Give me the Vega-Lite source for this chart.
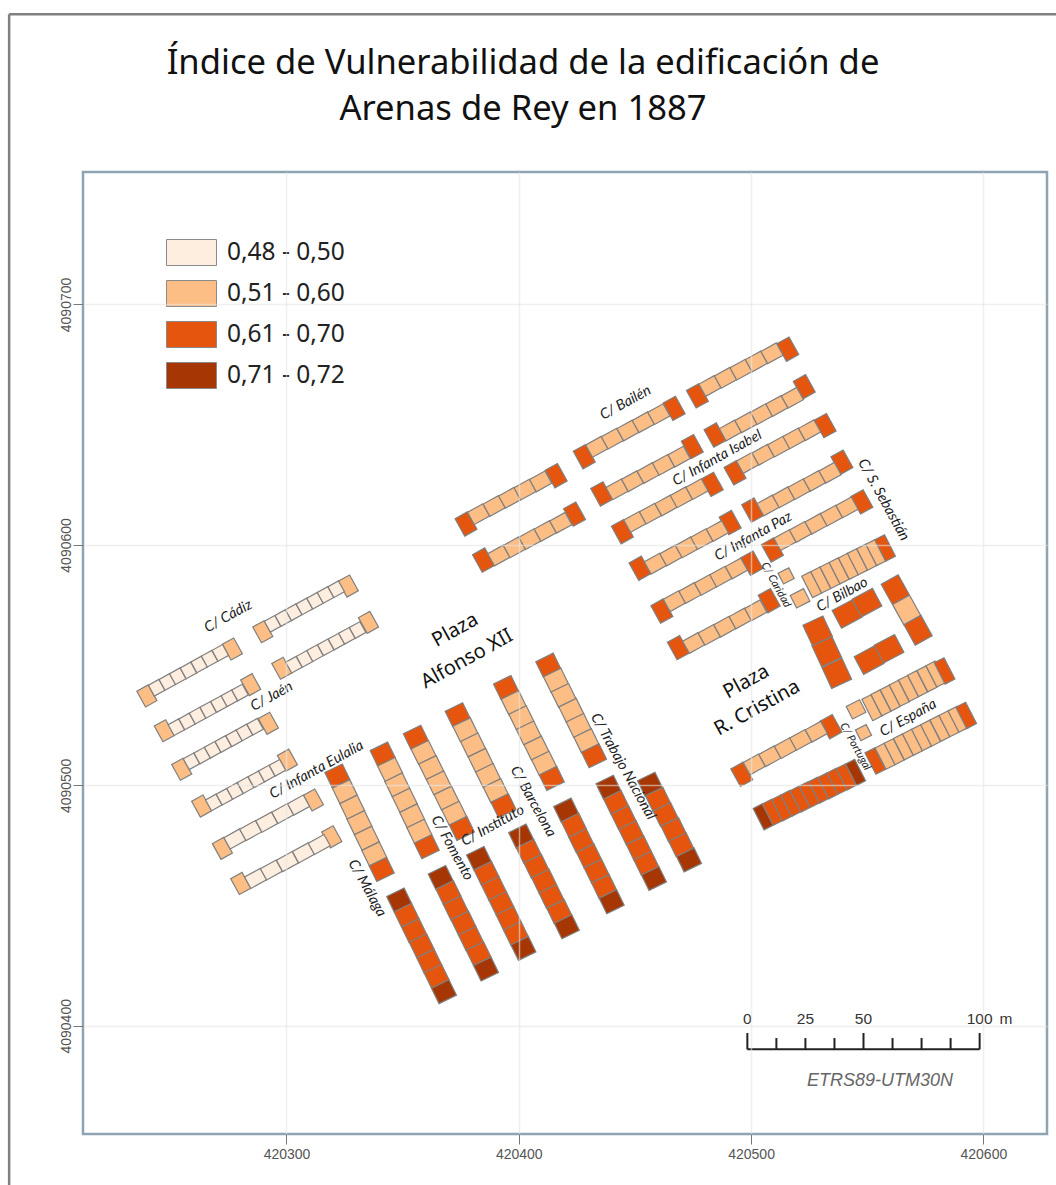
{"$schema":"https://vega.github.io/schema/vega-lite/v6.json","autosize":{"type":"none"},"padding":{"left":83,"top":172,"right":9,"bottom":51},"width":964,"height":962,"background":"white",
"config":{"view":{"stroke":"#8ea4b2","strokeWidth":2.5}},
"title":{"text":["Índice de Vulnerabilidad de la edificación de","Arenas de Rey en 1887"],"anchor":"middle","frame":"group","dx":-42,"offset":-115,"font":"Noto Sans","fontSize":34.6,"fontWeight":"normal","color":"#111111","lineHeight":46},
"datasets":{
"border":[{"e":420180.6,"n":4090820.7,"e2":420180.6,"n2":4090333.7},{"e":420180.6,"n":4090820.7,"e2":420631.3,"n2":4090820.7}],
"bar":[{"e":420498.4,"n":4090390.2,"e2":420598.4,"n2":4090390.2},{"e":420498.4,"n":4090397,"e2":420498.4,"n2":4090390.2},{"e":420510.9,"n":4090394.9,"e2":420510.9,"n2":4090390.2},{"e":420523.4,"n":4090394.9,"e2":420523.4,"n2":4090390.2},{"e":420535.9,"n":4090394.9,"e2":420535.9,"n2":4090390.2},{"e":420548.4,"n":4090397,"e2":420548.4,"n2":4090390.2},{"e":420560.9,"n":4090394.9,"e2":420560.9,"n2":4090390.2},{"e":420573.4,"n":4090394.9,"e2":420573.4,"n2":4090390.2},{"e":420585.9,"n":4090394.9,"e2":420585.9,"n2":4090390.2},{"e":420598.4,"n":4090397,"e2":420598.4,"n2":4090390.2}],
"barlabels":[{"e":420498.4,"n":4090402.8,"t":"0"},{"e":420523.4,"n":4090402.8,"t":"25"},{"e":420548.4,"n":4090402.8,"t":"50"},{"e":420598.4,"n":4090402.8,"t":"100"},{"e":420609.7,"n":4090402.8,"t":"m"}],
"along":[{"e":420275,"n":4090570.2,"t":"C/ Cádiz"},{"e":420293.7,"n":4090536.9,"t":"C/ Jaén"},{"e":420313,"n":4090506.4,"t":"C/ Infanta Eulalia"},{"e":420388.9,"n":4090483.1,"t":"C/ Instituto"},{"e":420446,"n":4090659,"t":"C/ Bailén"},{"e":420485.5,"n":4090636,"t":"C/ Infanta Isabel"},{"e":420501,"n":4090603.4,"t":"C/ Infanta Paz"},{"e":420539.3,"n":4090579.2,"t":"C/ Bilbao"},{"e":420567.7,"n":4090527.9,"t":"C/ España"}],
"across":[{"e":420334.6,"n":4090457.2,"t":"C/ Málaga"},{"e":420371.2,"n":4090473.9,"t":"C/ Fomento"},{"e":420406,"n":4090493.2,"t":"C/ Barcelona"},{"e":420444.8,"n":4090507.8,"t":"C/ Trabajo Nacional"},{"e":420556.9,"n":4090618.7,"t":"C/ S. Sebastián"}],
"acrosssmall":[{"e":420510.6,"n":4090583.3,"t":"C/ Caridad"},{"e":420544.8,"n":4090516.1,"t":"C/ Portugal"}],
"plazas":[{"e":420372.6,"n":4090564.6,"t":"Plaza"},{"e":420377.7,"n":4090552.6,"t":"Alfonso XII"},{"e":420497.9,"n":4090543.1,"t":"Plaza"},{"e":420502.6,"n":4090532.2,"t":"R. Cristina"}],
"cells":[
{"e":420239.9,"n":4090537.2,"c":"0,51 - 0,60","k":"t1"},{"e":420276.7,"n":4090556.7,"c":"0,51 - 0,60","k":"t1"},{"e":420289.8,"n":4090563.9,"c":"0,51 - 0,60","k":"t1"},{"e":420326.6,"n":4090582.9,"c":"0,51 - 0,60","k":"t1"},{"e":420247.4,"n":4090522.7,"c":"0,51 - 0,60","k":"t1"},{"e":420284.6,"n":4090541.9,"c":"0,51 - 0,60","k":"t1"},{"e":420298,"n":4090548.7,"c":"0,51 - 0,60","k":"t1"},{"e":420335.3,"n":4090567.8,"c":"0,51 - 0,60","k":"t1"},{"e":420254.9,"n":4090506.7,"c":"0,51 - 0,60","k":"t1"},{"e":420292.2,"n":4090525.8,"c":"0,51 - 0,60","k":"t1"},{"e":420263.5,"n":4090491.4,"c":"0,51 - 0,60","k":"t1"},{"e":420300.4,"n":4090510.5,"c":"0,51 - 0,60","k":"t1"},{"e":420272.4,"n":4090473.8,"c":"0,51 - 0,60","k":"t1"},{"e":420311.6,"n":4090493.9,"c":"0,51 - 0,60","k":"t1"},{"e":420280.3,"n":4090459.2,"c":"0,51 - 0,60","k":"t1"},{"e":420319.5,"n":4090478.6,"c":"0,51 - 0,60","k":"t1"},
{"e":420244.1,"n":4090540.6,"c":"0,48 - 0,50","k":"s"},{"e":420248.7,"n":4090543,"c":"0,48 - 0,50","k":"s"},{"e":420253.2,"n":4090545.4,"c":"0,48 - 0,50","k":"s"},{"e":420257.8,"n":4090547.8,"c":"0,48 - 0,50","k":"s"},{"e":420262.4,"n":4090550.3,"c":"0,48 - 0,50","k":"s"},{"e":420266.9,"n":4090552.7,"c":"0,48 - 0,50","k":"s"},{"e":420271.5,"n":4090555.1,"c":"0,48 - 0,50","k":"s"},
{"e":420294,"n":4090567.2,"c":"0,48 - 0,50","k":"s"},{"e":420298.6,"n":4090569.6,"c":"0,48 - 0,50","k":"s"},{"e":420303.1,"n":4090572,"c":"0,48 - 0,50","k":"s"},{"e":420307.7,"n":4090574.4,"c":"0,48 - 0,50","k":"s"},{"e":420312.3,"n":4090576.8,"c":"0,48 - 0,50","k":"s"},{"e":420316.8,"n":4090579.2,"c":"0,48 - 0,50","k":"s"},{"e":420321.4,"n":4090581.6,"c":"0,48 - 0,50","k":"s"},
{"e":420252.6,"n":4090524.2,"c":"0,48 - 0,50","k":"s"},{"e":420257.2,"n":4090526.6,"c":"0,48 - 0,50","k":"s"},{"e":420261.7,"n":4090529,"c":"0,48 - 0,50","k":"s"},{"e":420266.3,"n":4090531.4,"c":"0,48 - 0,50","k":"s"},{"e":420270.9,"n":4090533.8,"c":"0,48 - 0,50","k":"s"},{"e":420275.4,"n":4090536.2,"c":"0,48 - 0,50","k":"s"},{"e":420280,"n":4090538.6,"c":"0,48 - 0,50","k":"s"},
{"e":420303.2,"n":4090550.2,"c":"0,48 - 0,50","k":"s"},{"e":420307.8,"n":4090552.6,"c":"0,48 - 0,50","k":"s"},{"e":420312.3,"n":4090555,"c":"0,48 - 0,50","k":"s"},{"e":420316.9,"n":4090557.4,"c":"0,48 - 0,50","k":"s"},{"e":420321.5,"n":4090559.8,"c":"0,48 - 0,50","k":"s"},{"e":420326,"n":4090562.2,"c":"0,48 - 0,50","k":"s"},{"e":420330.6,"n":4090564.6,"c":"0,48 - 0,50","k":"s"},
{"e":420259.1,"n":4090510,"c":"0,48 - 0,50","k":"s"},{"e":420263.7,"n":4090512.4,"c":"0,48 - 0,50","k":"s"},{"e":420268.2,"n":4090514.8,"c":"0,48 - 0,50","k":"s"},{"e":420272.8,"n":4090517.2,"c":"0,48 - 0,50","k":"s"},{"e":420277.4,"n":4090519.6,"c":"0,48 - 0,50","k":"s"},{"e":420281.9,"n":4090522,"c":"0,48 - 0,50","k":"s"},{"e":420286.5,"n":4090524.4,"c":"0,48 - 0,50","k":"s"},
{"e":420268.7,"n":4090492.9,"c":"0,48 - 0,50","k":"s"},{"e":420273.3,"n":4090495.3,"c":"0,48 - 0,50","k":"s"},{"e":420277.8,"n":4090497.7,"c":"0,48 - 0,50","k":"s"},{"e":420282.4,"n":4090500.1,"c":"0,48 - 0,50","k":"s"},{"e":420287,"n":4090502.5,"c":"0,48 - 0,50","k":"s"},{"e":420291.5,"n":4090504.9,"c":"0,48 - 0,50","k":"s"},{"e":420296.1,"n":4090507.3,"c":"0,48 - 0,50","k":"s"},
{"e":420277.8,"n":4090477.7,"c":"0,48 - 0,50","k":"m"},{"e":420284.6,"n":4090481.2,"c":"0,48 - 0,50","k":"m"},{"e":420291.5,"n":4090484.7,"c":"0,48 - 0,50","k":"m"},{"e":420298.4,"n":4090488.3,"c":"0,48 - 0,50","k":"m"},{"e":420305.2,"n":4090491.8,"c":"0,48 - 0,50","k":"m"},
{"e":420286.7,"n":4090461.3,"c":"0,48 - 0,50","k":"m"},{"e":420293.5,"n":4090464.8,"c":"0,48 - 0,50","k":"m"},{"e":420300.4,"n":4090468.3,"c":"0,48 - 0,50","k":"m"},{"e":420307.3,"n":4090471.9,"c":"0,48 - 0,50","k":"m"},{"e":420314.1,"n":4090475.4,"c":"0,48 - 0,50","k":"m"},
{"e":420321.9,"n":4090503.9,"c":"0,61 - 0,70","k":"p"},{"e":420325.1,"n":4090497.4,"c":"0,51 - 0,60","k":"p"},{"e":420328.3,"n":4090490.9,"c":"0,51 - 0,60","k":"p"},{"e":420331.4,"n":4090484.5,"c":"0,51 - 0,60","k":"p"},{"e":420334.6,"n":4090478,"c":"0,51 - 0,60","k":"p"},{"e":420337.8,"n":4090471.5,"c":"0,51 - 0,60","k":"p"},{"e":420341,"n":4090465,"c":"0,61 - 0,70","k":"p"},
{"e":420341.4,"n":4090513,"c":"0,61 - 0,70","k":"p"},{"e":420344.6,"n":4090506.6,"c":"0,51 - 0,60","k":"p"},{"e":420347.7,"n":4090500.2,"c":"0,51 - 0,60","k":"p"},{"e":420350.9,"n":4090493.8,"c":"0,51 - 0,60","k":"p"},{"e":420354.1,"n":4090487.3,"c":"0,51 - 0,60","k":"p"},{"e":420357.2,"n":4090480.9,"c":"0,51 - 0,60","k":"p"},{"e":420360.4,"n":4090474.5,"c":"0,61 - 0,70","k":"p"},
{"e":420355.7,"n":4090520,"c":"0,61 - 0,70","k":"p"},{"e":420359,"n":4090513.7,"c":"0,51 - 0,60","k":"p"},{"e":420362.3,"n":4090507.4,"c":"0,51 - 0,60","k":"p"},{"e":420365.6,"n":4090501,"c":"0,51 - 0,60","k":"p"},{"e":420368.9,"n":4090494.7,"c":"0,51 - 0,60","k":"p"},{"e":420372.2,"n":4090488.4,"c":"0,51 - 0,60","k":"p"},{"e":420375.5,"n":4090482.1,"c":"0,61 - 0,70","k":"p"},
{"e":420373.7,"n":4090529.4,"c":"0,61 - 0,70","k":"p"},{"e":420377,"n":4090523.1,"c":"0,51 - 0,60","k":"p"},{"e":420380.3,"n":4090516.8,"c":"0,51 - 0,60","k":"p"},{"e":420383.6,"n":4090510.4,"c":"0,51 - 0,60","k":"p"},{"e":420386.8,"n":4090504.1,"c":"0,51 - 0,60","k":"p"},{"e":420390.1,"n":4090497.8,"c":"0,51 - 0,60","k":"p"},{"e":420393.4,"n":4090491.5,"c":"0,61 - 0,70","k":"p"},
{"e":420394.5,"n":4090540.7,"c":"0,61 - 0,70","k":"p"},{"e":420397.8,"n":4090534.4,"c":"0,51 - 0,60","k":"p"},{"e":420401.1,"n":4090528.1,"c":"0,51 - 0,60","k":"p"},{"e":420404.3,"n":4090521.8,"c":"0,51 - 0,60","k":"p"},{"e":420407.6,"n":4090515.5,"c":"0,51 - 0,60","k":"p"},{"e":420410.9,"n":4090509.2,"c":"0,51 - 0,60","k":"p"},{"e":420414.2,"n":4090502.9,"c":"0,61 - 0,70","k":"p"},
{"e":420412.7,"n":4090550,"c":"0,61 - 0,70","k":"p"},{"e":420416,"n":4090543.7,"c":"0,51 - 0,60","k":"p"},{"e":420419.3,"n":4090537.4,"c":"0,51 - 0,60","k":"p"},{"e":420422.6,"n":4090531.2,"c":"0,51 - 0,60","k":"p"},{"e":420425.8,"n":4090524.9,"c":"0,51 - 0,60","k":"p"},{"e":420429.1,"n":4090518.6,"c":"0,51 - 0,60","k":"p"},{"e":420432.4,"n":4090512.3,"c":"0,61 - 0,70","k":"p"},
{"e":420348.5,"n":4090452.3,"c":"0,71 - 0,72","k":"p"},{"e":420351.7,"n":4090446,"c":"0,61 - 0,70","k":"p"},{"e":420354.9,"n":4090439.6,"c":"0,61 - 0,70","k":"p"},{"e":420358.2,"n":4090433.3,"c":"0,61 - 0,70","k":"p"},{"e":420361.4,"n":4090426.9,"c":"0,61 - 0,70","k":"p"},{"e":420364.6,"n":4090420.6,"c":"0,61 - 0,70","k":"p"},{"e":420367.8,"n":4090414.2,"c":"0,71 - 0,72","k":"p"},
{"e":420366.4,"n":4090461.7,"c":"0,71 - 0,72","k":"p"},{"e":420369.7,"n":4090455.4,"c":"0,61 - 0,70","k":"p"},{"e":420372.9,"n":4090449,"c":"0,61 - 0,70","k":"p"},{"e":420376.2,"n":4090442.7,"c":"0,61 - 0,70","k":"p"},{"e":420379.4,"n":4090436.3,"c":"0,61 - 0,70","k":"p"},{"e":420382.7,"n":4090430,"c":"0,61 - 0,70","k":"p"},{"e":420385.9,"n":4090423.6,"c":"0,71 - 0,72","k":"p"},
{"e":420382.9,"n":4090469.6,"c":"0,71 - 0,72","k":"p"},{"e":420386.1,"n":4090463.4,"c":"0,61 - 0,70","k":"p"},{"e":420389.3,"n":4090457.1,"c":"0,61 - 0,70","k":"p"},{"e":420392.5,"n":4090450.9,"c":"0,61 - 0,70","k":"p"},{"e":420395.6,"n":4090444.7,"c":"0,61 - 0,70","k":"p"},{"e":420398.8,"n":4090438.4,"c":"0,61 - 0,70","k":"p"},{"e":420402,"n":4090432.2,"c":"0,71 - 0,72","k":"p"},
{"e":420401,"n":4090478.9,"c":"0,71 - 0,72","k":"p"},{"e":420404.3,"n":4090472.6,"c":"0,61 - 0,70","k":"p"},{"e":420407.6,"n":4090466.3,"c":"0,61 - 0,70","k":"p"},{"e":420410.9,"n":4090460.1,"c":"0,61 - 0,70","k":"p"},{"e":420414.1,"n":4090453.8,"c":"0,61 - 0,70","k":"p"},{"e":420417.4,"n":4090447.5,"c":"0,61 - 0,70","k":"p"},{"e":420420.7,"n":4090441.2,"c":"0,71 - 0,72","k":"p"},
{"e":420420.4,"n":4090489.7,"c":"0,71 - 0,72","k":"p"},{"e":420423.7,"n":4090483.4,"c":"0,61 - 0,70","k":"p"},{"e":420426.9,"n":4090477,"c":"0,61 - 0,70","k":"p"},{"e":420430.2,"n":4090470.7,"c":"0,61 - 0,70","k":"p"},{"e":420433.5,"n":4090464.3,"c":"0,61 - 0,70","k":"p"},{"e":420436.7,"n":4090458,"c":"0,61 - 0,70","k":"p"},{"e":420440,"n":4090451.6,"c":"0,71 - 0,72","k":"p"},
{"e":420438.6,"n":4090499.2,"c":"0,71 - 0,72","k":"p"},{"e":420441.9,"n":4090492.9,"c":"0,61 - 0,70","k":"p"},{"e":420445.1,"n":4090486.6,"c":"0,61 - 0,70","k":"p"},{"e":420448.4,"n":4090480.3,"c":"0,61 - 0,70","k":"p"},{"e":420451.7,"n":4090473.9,"c":"0,61 - 0,70","k":"p"},{"e":420454.9,"n":4090467.6,"c":"0,61 - 0,70","k":"p"},{"e":420458.2,"n":4090461.3,"c":"0,71 - 0,72","k":"p"},
{"e":420456.5,"n":4090500.5,"c":"0,71 - 0,72","k":"p"},{"e":420459.9,"n":4090494.2,"c":"0,61 - 0,70","k":"p"},{"e":420463.2,"n":4090487.9,"c":"0,61 - 0,70","k":"p"},{"e":420466.6,"n":4090481.6,"c":"0,61 - 0,70","k":"p"},{"e":420469.9,"n":4090475.3,"c":"0,61 - 0,70","k":"p"},{"e":420473.3,"n":4090469,"c":"0,71 - 0,72","k":"p"},
{"e":420377.3,"n":4090608.7,"c":"0,61 - 0,70","k":"t2"},{"e":420416.1,"n":4090628.8,"c":"0,61 - 0,70","k":"t2"},{"e":420382.7,"n":4090612.8,"c":"0,51 - 0,60","k":"n"},{"e":420389.4,"n":4090616.2,"c":"0,51 - 0,60","k":"n"},{"e":420396.1,"n":4090619.6,"c":"0,51 - 0,60","k":"n"},{"e":420402.7,"n":4090623,"c":"0,51 - 0,60","k":"n"},{"e":420409.4,"n":4090626.4,"c":"0,51 - 0,60","k":"n"},
{"e":420384.8,"n":4090593.7,"c":"0,61 - 0,70","k":"t2"},{"e":420424,"n":4090612.8,"c":"0,61 - 0,70","k":"t2"},{"e":420391.4,"n":4090595.6,"c":"0,51 - 0,60","k":"n"},{"e":420398.1,"n":4090599,"c":"0,51 - 0,60","k":"n"},{"e":420404.8,"n":4090602.4,"c":"0,51 - 0,60","k":"n"},{"e":420411.4,"n":4090605.8,"c":"0,51 - 0,60","k":"n"},{"e":420418.1,"n":4090609.2,"c":"0,51 - 0,60","k":"n"},
{"e":420428.2,"n":4090636.7,"c":"0,61 - 0,70","k":"t2"},{"e":420466.9,"n":4090656.8,"c":"0,61 - 0,70","k":"t2"},{"e":420433.6,"n":4090640.8,"c":"0,51 - 0,60","k":"n"},{"e":420440.3,"n":4090644.2,"c":"0,51 - 0,60","k":"n"},{"e":420447,"n":4090647.6,"c":"0,51 - 0,60","k":"n"},{"e":420453.6,"n":4090651,"c":"0,51 - 0,60","k":"n"},{"e":420460.3,"n":4090654.4,"c":"0,51 - 0,60","k":"n"},
{"e":420435.7,"n":4090621.2,"c":"0,61 - 0,70","k":"t2"},{"e":420474.7,"n":4090640.9,"c":"0,61 - 0,70","k":"t2"},{"e":420442.3,"n":4090623.1,"c":"0,51 - 0,60","k":"n"},{"e":420449,"n":4090626.5,"c":"0,51 - 0,60","k":"n"},{"e":420455.7,"n":4090629.9,"c":"0,51 - 0,60","k":"n"},{"e":420462.3,"n":4090633.3,"c":"0,51 - 0,60","k":"n"},{"e":420469,"n":4090636.7,"c":"0,51 - 0,60","k":"n"},
{"e":420444.6,"n":4090605.5,"c":"0,61 - 0,70","k":"t2"},{"e":420483.3,"n":4090625.2,"c":"0,61 - 0,70","k":"t2"},{"e":420450,"n":4090609.6,"c":"0,51 - 0,60","k":"n"},{"e":420456.7,"n":4090613,"c":"0,51 - 0,60","k":"n"},{"e":420463.4,"n":4090616.4,"c":"0,51 - 0,60","k":"n"},{"e":420470,"n":4090619.8,"c":"0,51 - 0,60","k":"n"},{"e":420476.7,"n":4090623.2,"c":"0,51 - 0,60","k":"n"},
{"e":420452.2,"n":4090590.3,"c":"0,61 - 0,70","k":"t2"},{"e":420491,"n":4090609.3,"c":"0,61 - 0,70","k":"t2"},{"e":420458.8,"n":4090592.2,"c":"0,51 - 0,60","k":"n"},{"e":420465.5,"n":4090595.6,"c":"0,51 - 0,60","k":"n"},{"e":420472.2,"n":4090599,"c":"0,51 - 0,60","k":"n"},{"e":420478.8,"n":4090602.4,"c":"0,51 - 0,60","k":"n"},{"e":420485.5,"n":4090605.8,"c":"0,51 - 0,60","k":"n"},
{"e":420461.6,"n":4090572.5,"c":"0,61 - 0,70","k":"t2"},{"e":420500.3,"n":4090592.4,"c":"0,61 - 0,70","k":"t2"},{"e":420467,"n":4090576.6,"c":"0,51 - 0,60","k":"n"},{"e":420473.7,"n":4090580,"c":"0,51 - 0,60","k":"n"},{"e":420480.4,"n":4090583.4,"c":"0,51 - 0,60","k":"n"},{"e":420487,"n":4090586.8,"c":"0,51 - 0,60","k":"n"},{"e":420493.7,"n":4090590.2,"c":"0,51 - 0,60","k":"n"},
{"e":420468.7,"n":4090557.3,"c":"0,61 - 0,70","k":"t2"},{"e":420507.8,"n":4090576.8,"c":"0,61 - 0,70","k":"t2"},{"e":420475.3,"n":4090559.2,"c":"0,51 - 0,60","k":"n"},{"e":420482,"n":4090562.6,"c":"0,51 - 0,60","k":"n"},{"e":420488.7,"n":4090566,"c":"0,51 - 0,60","k":"n"},{"e":420495.3,"n":4090569.4,"c":"0,51 - 0,60","k":"n"},{"e":420502,"n":4090572.8,"c":"0,51 - 0,60","k":"n"},
{"e":420476.9,"n":4090662,"c":"0,61 - 0,70","k":"t2"},{"e":420515.8,"n":4090681.4,"c":"0,61 - 0,70","k":"t2"},{"e":420482.3,"n":4090666.1,"c":"0,51 - 0,60","k":"n"},{"e":420489,"n":4090669.5,"c":"0,51 - 0,60","k":"n"},{"e":420495.7,"n":4090672.9,"c":"0,51 - 0,60","k":"n"},{"e":420502.3,"n":4090676.3,"c":"0,51 - 0,60","k":"n"},{"e":420509,"n":4090679.7,"c":"0,51 - 0,60","k":"n"},
{"e":420484.5,"n":4090645.7,"c":"0,61 - 0,70","k":"t2"},{"e":420522.9,"n":4090665.8,"c":"0,61 - 0,70","k":"t2"},{"e":420491.1,"n":4090647.6,"c":"0,51 - 0,60","k":"n"},{"e":420497.8,"n":4090651,"c":"0,51 - 0,60","k":"n"},{"e":420504.5,"n":4090654.4,"c":"0,51 - 0,60","k":"n"},{"e":420511.1,"n":4090657.8,"c":"0,51 - 0,60","k":"n"},{"e":420517.8,"n":4090661.2,"c":"0,51 - 0,60","k":"n"},
{"e":420493.1,"n":4090630,"c":"0,61 - 0,70","k":"t2"},{"e":420531.9,"n":4090649.6,"c":"0,61 - 0,70","k":"t2"},{"e":420498.5,"n":4090634.1,"c":"0,51 - 0,60","k":"n"},{"e":420505.2,"n":4090637.5,"c":"0,51 - 0,60","k":"n"},{"e":420511.9,"n":4090640.9,"c":"0,51 - 0,60","k":"n"},{"e":420518.5,"n":4090644.3,"c":"0,51 - 0,60","k":"n"},{"e":420525.2,"n":4090647.7,"c":"0,51 - 0,60","k":"n"},
{"e":420500.7,"n":4090614.5,"c":"0,61 - 0,70","k":"t2"},{"e":420539.1,"n":4090634.4,"c":"0,61 - 0,70","k":"t2"},{"e":420507.3,"n":4090616.4,"c":"0,51 - 0,60","k":"n"},{"e":420514,"n":4090619.8,"c":"0,51 - 0,60","k":"n"},{"e":420520.7,"n":4090623.2,"c":"0,51 - 0,60","k":"n"},{"e":420527.3,"n":4090626.6,"c":"0,51 - 0,60","k":"n"},{"e":420534,"n":4090630,"c":"0,51 - 0,60","k":"n"},
{"e":420509.2,"n":4090597.9,"c":"0,61 - 0,70","k":"t2"},{"e":420547.7,"n":4090617.9,"c":"0,61 - 0,70","k":"t2"},{"e":420514.6,"n":4090602,"c":"0,51 - 0,60","k":"n"},{"e":420521.3,"n":4090605.4,"c":"0,51 - 0,60","k":"n"},{"e":420528,"n":4090608.8,"c":"0,51 - 0,60","k":"n"},{"e":420534.6,"n":4090612.2,"c":"0,51 - 0,60","k":"n"},{"e":420541.3,"n":4090615.6,"c":"0,51 - 0,60","k":"n"},
{"e":420496,"n":4090504.6,"c":"0,61 - 0,70","k":"t2"},{"e":420534.4,"n":4090524.4,"c":"0,61 - 0,70","k":"t2"},{"e":420501.4,"n":4090508.7,"c":"0,51 - 0,60","k":"n"},{"e":420508.1,"n":4090512.1,"c":"0,51 - 0,60","k":"n"},{"e":420514.8,"n":4090515.5,"c":"0,51 - 0,60","k":"n"},{"e":420521.4,"n":4090518.9,"c":"0,51 - 0,60","k":"n"},{"e":420528.1,"n":4090522.3,"c":"0,51 - 0,60","k":"n"},
{"e":420521.1,"n":4090577.8,"c":"0,51 - 0,60","k":"w"},{"e":420515.1,"n":4090587.1,"c":"0,51 - 0,60","k":"c"},
{"e":420526.1,"n":4090583.5,"c":"0,51 - 0,60","k":"l"},{"e":420530,"n":4090585.4,"c":"0,51 - 0,60","k":"l"},{"e":420534,"n":4090587.3,"c":"0,51 - 0,60","k":"l"},{"e":420537.9,"n":4090589.2,"c":"0,51 - 0,60","k":"l"},{"e":420541.9,"n":4090591.1,"c":"0,51 - 0,60","k":"l"},{"e":420545.8,"n":4090593,"c":"0,51 - 0,60","k":"l"},{"e":420549.8,"n":4090594.9,"c":"0,51 - 0,60","k":"l"},{"e":420553.7,"n":4090596.8,"c":"0,51 - 0,60","k":"l"},{"e":420557.7,"n":4090598.7,"c":"0,61 - 0,70","k":"e"},
{"e":420528.7,"n":4090564.2,"c":"0,61 - 0,70","k":"b"},{"e":420532.6,"n":4090555.6,"c":"0,61 - 0,70","k":"b"},{"e":420536.9,"n":4090546.6,"c":"0,61 - 0,70","k":"b"},
{"e":420541.3,"n":4090571.3,"c":"0,61 - 0,70","k":"d"},{"e":420549.9,"n":4090576,"c":"0,61 - 0,70","k":"d"},{"e":420550.8,"n":4090552.1,"c":"0,61 - 0,70","k":"d"},{"e":420559.4,"n":4090556.8,"c":"0,61 - 0,70","k":"d"},
{"e":420562.1,"n":4090581.4,"c":"0,61 - 0,70","k":"r"},{"e":420567,"n":4090572.9,"c":"0,51 - 0,60","k":"r"},{"e":420571.9,"n":4090564.5,"c":"0,61 - 0,70","k":"r"},
{"e":420545.2,"n":4090531.6,"c":"0,51 - 0,60","k":"w"},{"e":420548.4,"n":4090521.9,"c":"0,51 - 0,60","k":"c"},
{"e":420552,"n":4090532.3,"c":"0,51 - 0,60","k":"l"},{"e":420555.9,"n":4090534.3,"c":"0,51 - 0,60","k":"l"},{"e":420559.9,"n":4090536.3,"c":"0,51 - 0,60","k":"l"},{"e":420563.8,"n":4090538.3,"c":"0,51 - 0,60","k":"l"},{"e":420567.8,"n":4090540.3,"c":"0,51 - 0,60","k":"l"},{"e":420571.7,"n":4090542.3,"c":"0,51 - 0,60","k":"l"},{"e":420575.7,"n":4090544.3,"c":"0,51 - 0,60","k":"l"},{"e":420579.6,"n":4090546.3,"c":"0,51 - 0,60","k":"l"},{"e":420583.3,"n":4090547.6,"c":"0,61 - 0,70","k":"e"},
{"e":420553.5,"n":4090510.1,"c":"0,61 - 0,70","k":"e"},{"e":420557.7,"n":4090512.1,"c":"0,51 - 0,60","k":"l"},{"e":420561.6,"n":4090514,"c":"0,51 - 0,60","k":"l"},{"e":420565.6,"n":4090516,"c":"0,51 - 0,60","k":"l"},{"e":420569.5,"n":4090517.9,"c":"0,51 - 0,60","k":"l"},{"e":420573.4,"n":4090519.8,"c":"0,51 - 0,60","k":"l"},{"e":420577.3,"n":4090521.7,"c":"0,51 - 0,60","k":"l"},{"e":420581.3,"n":4090523.7,"c":"0,51 - 0,60","k":"l"},{"e":420585.2,"n":4090525.6,"c":"0,51 - 0,60","k":"l"},{"e":420589.1,"n":4090527.5,"c":"0,51 - 0,60","k":"l"},{"e":420592.6,"n":4090529.1,"c":"0,61 - 0,70","k":"e"},
{"e":420505.2,"n":4090486.9,"c":"0,71 - 0,72","k":"l"},{"e":420509.2,"n":4090488.8,"c":"0,61 - 0,70","k":"l"},{"e":420513.2,"n":4090490.6,"c":"0,61 - 0,70","k":"l"},{"e":420517.1,"n":4090492.5,"c":"0,61 - 0,70","k":"l"},{"e":420521.1,"n":4090494.3,"c":"0,61 - 0,70","k":"l"},{"e":420525.1,"n":4090496.2,"c":"0,61 - 0,70","k":"l"},{"e":420529.1,"n":4090498,"c":"0,61 - 0,70","k":"l"},{"e":420533.1,"n":4090499.8,"c":"0,61 - 0,70","k":"l"},{"e":420537,"n":4090501.7,"c":"0,61 - 0,70","k":"l"},{"e":420541,"n":4090503.5,"c":"0,61 - 0,70","k":"l"},{"e":420545,"n":4090505.4,"c":"0,71 - 0,72","k":"l"}
]},
"encoding":{
"x":{"field":"e","type":"quantitative","title":null,"scale":{"domain":[420212.4,420627.4],"nice":false,"zero":false},"axis":{"values":[420300,420400,420500,420600],"format":"d","domain":false,"tickSize":10,"tickColor":"#777777","labelPadding":3,"labelFont":"Liberation Sans","labelFontSize":14,"labelColor":"#555555","labelFlush":false,"grid":true,"gridColor":"#e4e4e4","gridOpacity":0.6,"gridWidth":1.5,"zindex":1}},
"y":{"field":"n","type":"quantitative","title":null,"scale":{"domain":[4090355,4090755.1],"nice":false,"zero":false},"axis":{"values":[4090400,4090500,4090600,4090700],"format":"d","domain":false,"tickSize":10,"tickColor":"#777777","labelPadding":0,"labelAngle":-90,"labelAlign":"center","labelBaseline":"bottom","labelFont":"Liberation Sans","labelFontSize":14,"labelColor":"#555555","grid":true,"gridColor":"#e4e4e4","gridOpacity":0.6,"gridWidth":1.5,"zindex":1}}
},
"layer":[
{"data":{"name":"border"},"mark":{"type":"rule","color":"#808080","strokeWidth":2.5},"encoding":{"x2":{"field":"e2"},"y2":{"field":"n2"}}},
{"data":{"name":"cells"},"mark":{"type":"point","filled":true,"opacity":1,"size":400,"stroke":"#7f7f7f","strokeWidth":1.2},"encoding":{
"angle":{"field":"k","type":"nominal","legend":null,"scale":{"type":"ordinal","domain":["t1","t2","s","m","n","p","l","e","w","c","b","d","r"],"range":[331,331,331,331,331,334,333,333,333,333,335,332,331]}},
"color":{"field":"c","type":"nominal","scale":{"domain":["0,48 - 0,50","0,51 - 0,60","0,61 - 0,70","0,71 - 0,72"],"range":["#feeee0","#fdbe85","#e6550d","#a63603"]},"legend":{"title":null,"orient":"none","legendX":83,"legendY":55,"padding":0,"symbolType":"M-1,-0.52H1V0.52H-1Z","symbolSize":2500,"symbolStrokeColor":"#8a8a8a","symbolStrokeWidth":1,"symbolOpacity":1,"rowPadding":-8,"labelOffset":10,"labelFont":"Noto Sans","labelFontSize":24.5,"labelColor":"#222222"}},
"shape":{"field":"k","type":"nominal","legend":null,"scale":{"domain":["t1","t2","s","m","n","p","l","e","w","c","b","d","r"],"range":["M-0.65,-0.9H0.65V0.9H-0.65Z","M-0.7,-1H0.7V1H-0.7Z","M-0.6,-0.62H0.6V0.62H-0.6Z","M-0.9,-0.65H0.9V0.65H-0.9Z","M-0.88,-0.7H0.88V0.7H-0.88Z","M-0.97,-0.86H0.97V0.86H-0.97Z","M-0.51,-1.2H0.51V1.2H-0.51Z","M-0.55,-1.2H0.55V1.2H-0.55Z","M-0.75,-0.7H0.75V0.7H-0.75Z","M-0.6,-0.6H0.6V0.6H-0.6Z","M-1.1,-1.15H1.1V1.15H-1.1Z","M-1.15,-1H1.15V1H-1.15Z","M-0.97,-1.16H0.97V1.16H-0.97Z"]}}
}},
{"data":{"name":"along"},"mark":{"type":"text","font":"Lato","fontStyle":"italic","fontSize":14.5,"angle":331,"color":"#222222"},"encoding":{"text":{"field":"t"}}},
{"data":{"name":"across"},"mark":{"type":"text","font":"Lato","fontStyle":"italic","fontSize":14.5,"angle":61,"color":"#222222"},"encoding":{"text":{"field":"t"}}},
{"data":{"name":"acrosssmall"},"mark":{"type":"text","font":"Lato","fontStyle":"italic","fontSize":11,"angle":61,"color":"#222222"},"encoding":{"text":{"field":"t"}}},
{"data":{"name":"plazas"},"mark":{"type":"text","font":"Noto Sans","fontSize":20,"angle":331,"color":"#111111"},"encoding":{"text":{"field":"t"}}},
{"data":{"name":"bar"},"mark":{"type":"rule","color":"#222222","strokeWidth":2},"encoding":{"x2":{"field":"e2"},"y2":{"field":"n2"}}},
{"data":{"name":"barlabels"},"mark":{"type":"text","font":"Liberation Sans","fontSize":15.5,"color":"#333333"},"encoding":{"text":{"field":"t"}}},
{"data":{"values":[{"e":420555.5,"n":4090377.1,"t":"ETRS89-UTM30N"}]},"mark":{"type":"text","font":"Liberation Sans","fontStyle":"italic","fontSize":18,"color":"#666666"},"encoding":{"text":{"field":"t"}}}
]}
